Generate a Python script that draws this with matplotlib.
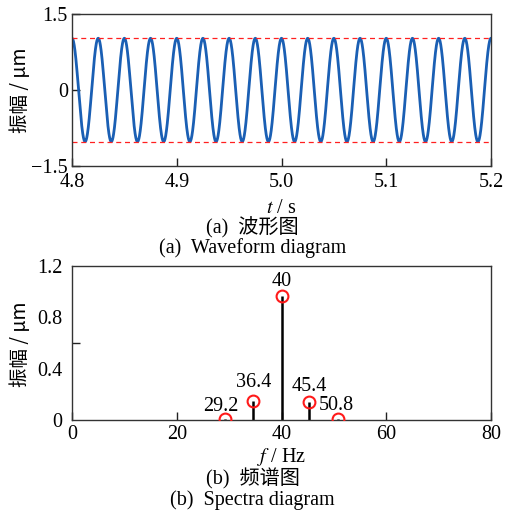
import matplotlib
matplotlib.use("Agg")
import matplotlib.pyplot as plt
import numpy as np

# waveform (a)
t_start, t_end = 4.8, 5.2
wave_freq = 40.0      # Hz
wave_amp = 1.02       # um
bound = 1.02          # red dashed limits

# spectrum (b)
peak_freqs = [29.2, 34.6, 40.0, 45.3, 50.7]
peak_amps = [0.005, 0.148, 0.97, 0.138, 0.01]
peak_labels = ["29.2", "36.4", "40", "45.4", "50.8"]
label_offsets = [(-3, 9.5), (0, 13), (0, 10), (0, 11.5), (-1, 9.5)]

serif = ["Liberation Serif", "Noto Sans CJK SC"]
cjk = ["Noto Sans CJK SC", "DejaVu Sans"]
plt.rcParams["font.family"] = serif
plt.rcParams["mathtext.fontset"] = "stix"
fs = 14.5

fig = plt.figure(figsize=(5.05, 5.12), dpi=100)
ax1 = fig.add_axes([0.1426, 0.6758, 0.8297, 0.297])
ax2 = fig.add_axes([0.1426, 0.1797, 0.8297, 0.3008])

# --- (a) waveform
t = np.linspace(t_start, t_end, 4000)
ax1.plot(t, wave_amp * np.cos(2 * np.pi * wave_freq * t), color="#1a5fb4", lw=2.0)
ax1.axhline(bound, color="#ff2020", ls=(0, (4, 3)), lw=0.9)
ax1.axhline(-bound, color="#ff2020", ls=(0, (4, 3)), lw=0.9)
ax1.set_xlim(t_start, t_end)
ax1.set_ylim(-1.5, 1.5)
ax1.set_xticks([4.8, 4.9, 5.0, 5.1, 5.2])
ax1.set_xticklabels(["4.8", "4.9", "5.0", "5.1", "5.2"])
ax1.set_yticks([-1.5, 0, 1.5])
ax1.set_yticklabels(["\u22121.5", "0", "1.5"])
ax1.set_xlabel(r"$t$ / s", fontsize=fs)
ax1.xaxis.set_label_coords(0.5, -0.215)
ax1.set_ylabel("振幅 / μm", fontsize=14, family=cjk)
ax1.yaxis.set_label_coords(-0.098, 0.5)

# --- (b) spectrum
ax2.vlines(peak_freqs, 0, peak_amps, color="black", lw=1.8)
ax2.plot(peak_freqs, peak_amps, "o", mfc="none", mec="#ff1a1a", mew=1.5, ms=8.5,
         zorder=3)
for f, a, lab, off in zip(peak_freqs, peak_amps, peak_labels, label_offsets):
    ax2.annotate(lab, (f, a), xytext=off, textcoords="offset points",
                 ha="center", va="center", fontsize=fs)
ax2.set_xlim(0, 80)
ax2.set_ylim(0, 1.2)
ax2.set_xticks([0, 20, 40, 60, 80])
ax2.set_yticks([0, 0.4, 0.8, 1.2])
ax2.set_yticklabels(["0", "0.4", "0.8", "1.2"])
ax2.set_yticks([0.6], minor=True)
ax2.set_xlabel(r"$f$ / Hz", fontsize=fs)
ax2.xaxis.set_label_coords(0.5, -0.17)
ax2.set_ylabel("振幅 / μm", fontsize=14, family=cjk)
ax2.yaxis.set_label_coords(-0.098, 0.49)

for ax in (ax1, ax2):
    ax.tick_params(axis="both", which="major", direction="in", length=6,
                   width=1, labelsize=fs, colors="#222222", labelcolor="black")
    for s in ax.spines.values():
        s.set_linewidth(1.0)
        s.set_color("#333333")
ax1.tick_params(axis="x", which="major", pad=5)
ax1.tick_params(axis="y", which="major", pad=3)
ax2.tick_params(axis="y", which="major", length=0, pad=7)
ax2.tick_params(axis="y", which="minor", direction="in", length=6, width=1,
                colors="#222222")

# captions
fig.text(0.5, 1 - 228 / 512, "(a)  波形图", ha="center", va="center", fontsize=fs)
fig.text(0.5, 1 - 248 / 512, "(a)  Waveform diagram", ha="center", va="center", fontsize=fs)
fig.text(0.5, 1 - 479 / 512, "(b)  频谱图", ha="center", va="center", fontsize=fs)
fig.text(0.5, 1 - 500 / 512, "(b)  Spectra diagram", ha="center", va="center", fontsize=fs)

fig.savefig("out.png", dpi=100)
